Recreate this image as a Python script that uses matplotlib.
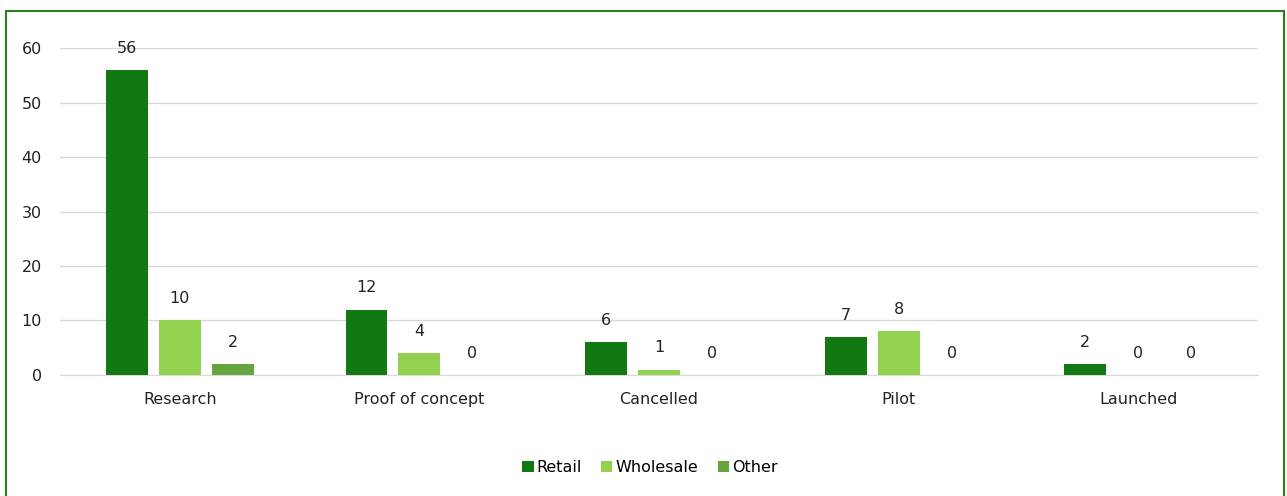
import matplotlib.pyplot as plt
import numpy as np
from matplotlib.patches import Rectangle

categories = ['Research', 'Proof of concept', 'Cancelled', 'Pilot', 'Launched']
retail = [56, 12, 6, 7, 2]
wholesale = [10, 4, 1, 8, 0]
other = [2, 0, 0, 0, 0]

series = [('Retail', retail, '#127812'),
          ('Wholesale', wholesale, '#92D050'),
          ('Other', other, '#66A43E')]

plt.rcParams['font.family'] = 'DejaVu Sans'
fig = plt.figure(figsize=(12.87, 4.96), dpi=100)
ax = fig.add_axes([0.0466, 0.244, 0.931, 0.659])

x = np.arange(len(categories))
w = 0.175
step = 0.221
for i, (name, vals, col) in enumerate(series):
    pos = x + (i - 1) * step
    bars = ax.bar(pos, vals, w, color=col, label=name, zorder=3)
    for p, v in zip(pos, vals):
        ax.text(p, v + 4.0, str(v), ha='center', va='center', fontsize=11.5, color='#222222')

ax.set_xlim(-0.5, len(categories) - 0.5)
ax.set_ylim(0, 60)
ax.set_yticks(range(0, 61, 10))
ax.set_xticks(x)
ax.set_xticklabels(categories)
ax.tick_params(axis='both', length=0, labelsize=11.5, colors='#222222')
ax.tick_params(axis='x', pad=12)
ax.tick_params(axis='y', pad=13)
ax.grid(axis='y', color='#d9d9d9', linewidth=1, zorder=0)
for s in ['top', 'right', 'left']:
    ax.spines[s].set_visible(False)
ax.spines['bottom'].set_color('#d9d9d9')

fig.legend(loc='center', bbox_to_anchor=(0.505, 0.058), ncol=3, frameon=False,
           fontsize=11.5, handlelength=0.7, handleheight=0.7, handletextpad=0.2,
           columnspacing=1.2)

fig.patches.append(Rectangle((0.005, -0.05), 0.993, 1.028, transform=fig.transFigure,
                             fill=False, edgecolor='#2E7D1E', linewidth=1.5))

fig.savefig('out.png', dpi=100)
